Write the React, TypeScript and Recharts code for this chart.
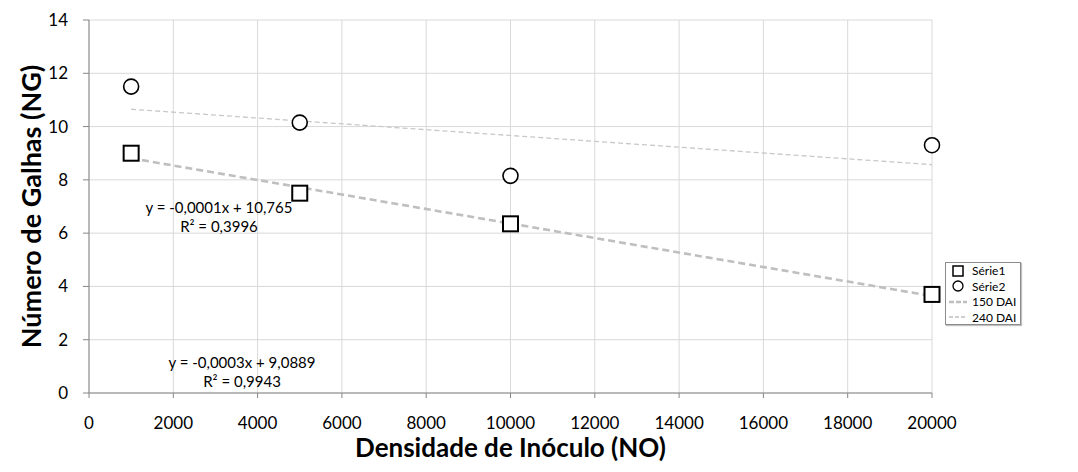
import React from 'react';
import {
  ScatterChart,
  Scatter,
  XAxis,
  YAxis,
  CartesianGrid,
  ReferenceDot,
} from 'recharts';

const serie1 = [
  { x: 1000, y: 9.0 },
  { x: 5000, y: 7.5 },
  { x: 10000, y: 6.35 },
  { x: 20000, y: 3.7 },
];

const serie2 = [
  { x: 1000, y: 11.5 },
  { x: 5000, y: 10.15 },
  { x: 10000, y: 8.15 },
  { x: 20000, y: 9.3 },
];

// trendline end points
const trend150 = [
  { x: 1000, y: 8.81 },
  { x: 20000, y: 3.64 },
];
const trend240 = [
  { x: 1000, y: 10.65 },
  { x: 20000, y: 8.57 },
];

const xTicks = [0, 2000, 4000, 6000, 8000, 10000, 12000, 14000, 16000, 18000, 20000];
const yTicks = [0, 2, 4, 6, 8, 10, 12, 14];

const eq240 = ['y = -0,0001x + 10,765', 'R² = 0,3996'];
const eq150 = ['y = -0,0003x + 9,0889', 'R² = 0,9943'];

const FONT = 'Lato, "Open Sans", sans-serif';

function SquareMarker(props: any) {
  const { cx, cy } = props;
  return <rect x={cx - 7.5} y={cy - 7.5} width={15} height={15} fill="#fff" stroke="#000" strokeWidth={2} />;
}

function CircleMarker(props: any) {
  const { cx, cy } = props;
  return <circle cx={cx} cy={cy} r={7.5} fill="#fff" stroke="#000" strokeWidth={1.6} />;
}

function NoMarker() {
  return <g />;
}

function EqLabel({ viewBox, lines }: any) {
  const { x, y } = viewBox;
  return (
    <text x={x} y={y} textAnchor="middle" fontFamily={FONT} fontSize={15} fill="#000">
      <tspan x={x} dy={0}>{lines[0]}</tspan>
      <tspan x={x} dy={19}>{lines[1]}</tspan>
    </text>
  );
}

function ChartLegend() {
  const row = { display: 'flex', alignItems: 'center', height: 15.5, whiteSpace: 'nowrap' } as const;
  const sym = { width: 18, marginRight: 5, display: 'flex', justifyContent: 'center' } as const;
  return (
    <div
      style={{
        position: 'absolute',
        left: 945,
        top: 262,
        width: 76,
        height: 63,
        boxSizing: 'border-box',
        border: '1px solid #8c8c8c',
        boxShadow: '1px 1px 1px #c0c0c0',
        background: '#fff',
        padding: '0px 2px 0px 3px',
        fontFamily: FONT,
        fontSize: 12,
        color: '#000',
      }}
    >
      <div style={row}>
        <div style={sym}>
          <svg width={12} height={12}><rect x={1} y={1} width={10} height={10} fill="#fff" stroke="#000" strokeWidth={1.5} /></svg>
        </div>
        Série1
      </div>
      <div style={row}>
        <div style={sym}>
          <svg width={12} height={12}><circle cx={6} cy={6} r={5} fill="#fff" stroke="#000" strokeWidth={1.3} /></svg>
        </div>
        Série2
      </div>
      <div style={row}>
        <div style={sym}>
          <svg width={18} height={4}><line x1={0} y1={2} x2={18} y2={2} stroke="#bfbfbf" strokeWidth={2.5} strokeDasharray="5 2" /></svg>
        </div>
        150 DAI
      </div>
      <div style={row}>
        <div style={sym}>
          <svg width={18} height={4}><line x1={0} y1={2} x2={18} y2={2} stroke="#bfbfbf" strokeWidth={1.3} strokeDasharray="4 2" /></svg>
        </div>
        240 DAI
      </div>
    </div>
  );
}

export default function App() {
  return (
    <div style={{ position: 'absolute', left: 0, top: 0, width: 1078, height: 472, background: '#fff' }}>
      <ScatterChart width={1078} height={472} margin={{ top: 20, right: 146, bottom: 19, left: 29 }}>
        <CartesianGrid stroke="#d9d9d9" />
        <XAxis
          type="number"
          dataKey="x"
          domain={[0, 20000]}
          ticks={xTicks}
          stroke="#868686"
          tickSize={5}
          tick={{ fill: '#000', fontSize: 17, fontFamily: FONT }}
          tickMargin={19}
          height={60}
          label={{
            value: 'Densidade de Inóculo (NO)',
            position: 'insideBottom',
            offset: -4,
            style: { fontFamily: FONT, fontWeight: 700, fontSize: 26, fill: '#000' },
          }}
        />
        <YAxis
          type="number"
          dataKey="y"
          domain={[0, 14]}
          ticks={yTicks}
          stroke="#868686"
          tickSize={6}
          tick={{ fill: '#000', fontSize: 17, fontFamily: FONT }}
          tickMargin={15}
          width={60}
          label={{
            value: 'Número de Galhas (NG)',
            angle: -90,
            position: 'insideLeft',
            offset: 2,
            style: { textAnchor: 'middle', fontFamily: FONT, fontWeight: 700, fontSize: 27, fill: '#000' },
          }}
        />
        <Scatter
          name="240 DAI"
          data={trend240}
          line={{ stroke: '#c8c8c8', strokeWidth: 1.3, strokeDasharray: '5 3' }}
          shape={<NoMarker />}
          isAnimationActive={false}
        />
        <Scatter
          name="150 DAI"
          data={trend150}
          line={{ stroke: '#bfbfbf', strokeWidth: 2.6, strokeDasharray: '7 4' }}
          shape={<NoMarker />}
          isAnimationActive={false}
        />
        <Scatter name="Série1" data={serie1} shape={<SquareMarker />} isAnimationActive={false} />
        <Scatter name="Série2" data={serie2} shape={<CircleMarker />} isAnimationActive={false} />
        <ReferenceDot x={3084} y={6.76} r={0} label={<EqLabel lines={eq240} />} />
        <ReferenceDot x={3630} y={0.94} r={0} label={<EqLabel lines={eq150} />} />
      </ScatterChart>
      <ChartLegend />
    </div>
  );
}
